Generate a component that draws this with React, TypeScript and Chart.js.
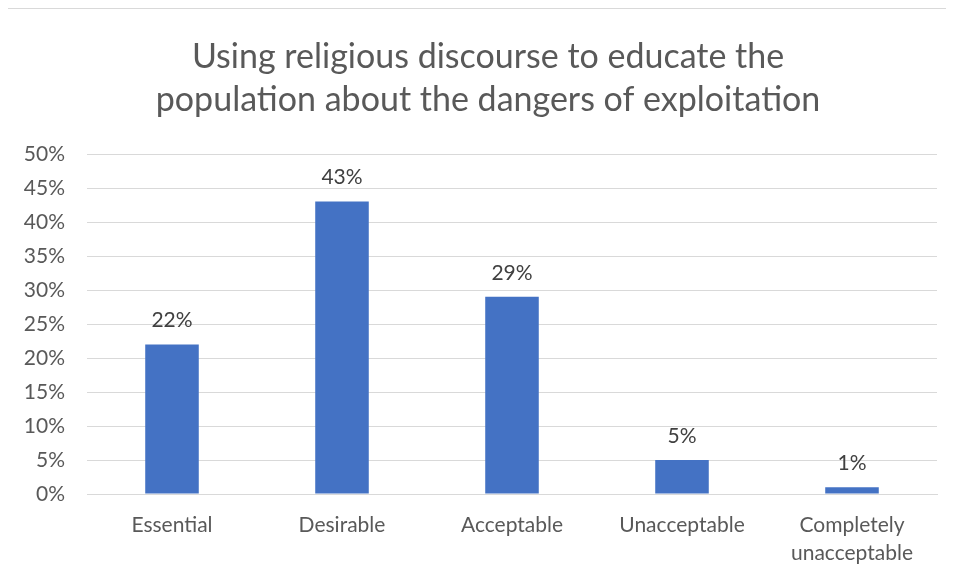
import React, { useEffect, useRef } from "react";
import { Chart, registerables } from "chart.js";

Chart.register(...registerables);

const chartTitle = ["Using religious discourse to educate the", "population about the dangers of exploitation"];
const categories: (string | string[])[] = ["Essential", "Desirable", "Acceptable", "Unacceptable", ["Completely", "unacceptable"]];
const values = [22, 43, 29, 5, 1];
const yTicks = [0, 5, 10, 15, 20, 25, 30, 35, 40, 45, 50];

const FONT = "Lato, 'Open Sans', sans-serif";

const labelPlugin = {
  id: "barLabels",
  afterDatasetsDraw(chart: any) {
    const ctx = chart.ctx;
    const meta = chart.getDatasetMeta(0);
    ctx.save();
    ctx.fillStyle = "#404040";
    ctx.font = `21px ${FONT}`;
    ctx.textAlign = "center";
    ctx.textBaseline = "middle";
    meta.data.forEach((el: any, i: number) => {
      ctx.fillText(values[i] + "%", el.x, el.y - 24);
    });
    ctx.restore();
  },
};

const titlePlugin = {
  id: "wideTitle",
  afterDraw(chart: any) {
    const ctx = chart.ctx;
    ctx.save();
    ctx.fillStyle = "#595959";
    ctx.font = `34px ${FONT}`;
    ctx.textAlign = "center";
    ctx.textBaseline = "middle";
    const cx = chart.width * 0.508;
    chartTitle.forEach((line, i) => {
      ctx.fillText(line, cx, 48 + i * 43);
    });
    ctx.restore();
  },
};

export default function App() {
  const ref = useRef<HTMLCanvasElement>(null);
  useEffect(() => {
    if (!ref.current) return;
    const chart = new Chart(ref.current, {
      type: "bar",
      data: {
        labels: categories,
        datasets: [
          {
            data: values,
            backgroundColor: "#4472C4",
            barPercentage: 0.63,
            categoryPercentage: 0.5,
          },
        ],
      },
      options: {
        animation: false,
        responsive: false,
        maintainAspectRatio: false,
        layout: { padding: { left: 0, right: 16, top: 145, bottom: 0 } },
        plugins: {
          legend: { display: false },
          tooltip: { enabled: false },
          title: { display: false },
        },
        scales: {
          x: {
            grid: { display: false },
            border: { display: true, color: "#d9d9d9" },
            ticks: {
              color: "#595959",
              font: { family: FONT, size: 21, lineHeight: 1.33 },
              padding: 9,
              maxRotation: 0,
              autoSkip: false,
            },
            afterFit(scale: any) {
              scale.height = 85;
            },
          },
          y: {
            min: 0,
            max: 50,
            grid: { color: "#d9d9d9", drawTicks: false },
            border: { display: false },
            afterBuildTicks(scale: any) {
              scale.ticks = yTicks.map((v) => ({ value: v }));
            },
            ticks: {
              color: "#595959",
              font: { family: FONT, size: 21 },
              padding: 22,
              callback: (v: any) => v + "%",
            },
            afterFit(scale: any) {
              scale.width = 79;
            },
          },
        },
      },
      plugins: [labelPlugin, titlePlugin],
    });
    return () => chart.destroy();
  }, []);
  return (
    <div style={{ width: 945, height: 580, border: "1px solid #d9d9d9", borderRight: "none", marginLeft: -1 }}>
      <canvas ref={ref} width={945} height={570} style={{ display: "block" }} />
    </div>
  );
}
